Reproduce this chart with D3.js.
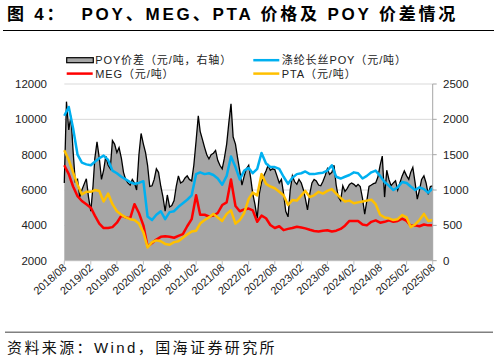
<!DOCTYPE html>
<html>
<head>
<meta charset="utf-8">
<script src="https://cdn.jsdelivr.net/npm/d3@7"></script>
<style>
  body { margin: 0; background: #fff; }
  svg { display: block; }
</style>
</head>
<body>
<svg id="chart" width="498" height="361"></svg>
<script>
// monthly series, 2018/08 .. 2025/08
const poyPrice = [
  10200, 10700, 9500, 8000, 7550, 7450, 7400, 7600, 7800, 7950, 7700, 7100,
  6950, 6750, 6600, 6450, 6350, 6400, 6500, 4500, 4300, 4600, 4800, 4350,
  4750, 4800, 5050, 5250, 5450, 5700, 6900, 7000, 6900, 6950, 6850, 6650,
  6300, 6800, 7900, 7300, 6600, 7100, 7250, 6950, 7200, 8100, 7500, 7300,
  7300, 7200, 6750, 6350, 6700, 6900, 6950, 7050, 6900, 6900, 6950, 6980,
  7100, 7400, 6750, 6650, 6750, 6850, 7000, 6950, 6650, 6800, 7000, 7100,
  6800, 6450, 6250, 6000, 6150, 6450, 6400, 6200, 6000, 6150, 6050, 5850,
  6100
];
const megPrice = [
  7400, 6900, 6200, 5650, 5380, 5200, 5000, 4550, 4100, 3850, 3850, 3900,
  4150, 4550, 4450, 4400, 5200, 4700, 4000, 2800, 3000, 3200, 3350, 3380,
  3350, 3300, 3400, 3500, 3950, 4350, 5700, 4600, 4600, 4500, 4550, 4700,
  5150, 5300, 6600, 5100, 4800, 4900, 4950, 4850, 4200, 4550, 4400, 4020,
  3850, 3950, 3730, 3800, 3850, 3920, 3880, 3830, 3750, 3680, 3650, 3700,
  3720, 3650, 3700, 3800, 3980, 4250, 4250, 4250, 4050, 4000, 4200, 4280,
  4150, 4200, 4280, 4200, 4250, 4380, 4250, 3980, 4000, 3950, 4050, 4000,
  4000
];
const ptaPrice = [
  8250, 7700, 7000, 6300, 5750, 5900, 5900, 6000, 5950, 5350, 5800, 5200,
  4800, 4600, 4450, 4350, 4300, 4100, 3600, 2750, 3050, 3150, 3100, 2950,
  2900, 3050, 3100, 3300, 3480, 3650, 3700, 4100, 4300, 4450, 4650, 4450,
  4250, 4650, 4850, 4100, 4300, 4700, 5500, 5850, 5700, 6900, 6350, 6200,
  6100, 5900, 5700, 5150, 5430, 5400, 5700, 5950, 5600, 5700, 5900, 5800,
  5950, 6050, 5800, 5550, 5350, 5400, 5250, 5300, 5350, 5400, 5450, 5200,
  4600, 4450, 4400, 4300, 4350, 4580, 4450, 3900, 4050, 4300, 4650, 4250,
  4300
];
// half-monthly POY spread (right axis)
const poySpread = [
  1100, 2250, 1850, 2050, 1550, 1120, 1150, 900, 1000, 1080, 1160, 900,
  700, 1050, 1450, 1680, 1450, 1150, 1280, 1480, 1350, 1300, 1700, 1650,
  1530, 1600, 1450, 1250, 1150, 1100, 1070, 1150, 1100, 1000, 1500, 1800,
  1650, 1530, 1350, 1050, 1060, 1150, 1300, 1250, 1050, 900, 700, 930,
  760, 780, 850, 1050, 1200, 1100, 1120, 1170, 1200, 1150, 1130, 1350,
  1700, 2050, 1830, 1720, 1600, 1500, 1440, 1500, 1520, 1560, 1420, 1350,
  1300, 1450, 1650, 1950, 2220, 1750, 1650, 1450, 1270, 1070, 1200, 1300,
  1350, 1150, 950, 800, 600, 950, 1110, 1200, 1270, 1350, 1280, 1300,
  1290, 1200, 1100, 1150, 950, 700, 620, 1000, 1200, 1120, 1080, 1150,
  1100, 1000, 880, 720, 950, 1100, 1150, 1130, 1070, 1060, 1120, 1200,
  1300, 1220, 1250, 1350, 1070, 900, 850, 1060, 980, 1020, 1080, 1100,
  1080, 1050, 1080, 1050, 880, 660, 850, 1050, 1070, 1090, 1100, 1180,
  1350, 1480, 900, 1280, 1150, 1060, 1100, 1130, 1000, 1100, 1200, 1270,
  1200, 1150, 1250, 1320, 1100, 870, 1000, 1150, 1200, 1100, 940, 1050,
  1060
];
const leftTicks = [2000, 4000, 6000, 8000, 10000, 12000];
const rightTicks = [0, 500, 1000, 1500, 2000, 2500];

const start = new Date(2018, 7, 1);
const end = new Date(2025, 7, 1);
const monthDates = poyPrice.map((d, i) => d3.timeMonth.offset(start, i));
const halfDates = poySpread.map((d, i) => d3.timeDay.offset(d3.timeMonth.offset(start, Math.floor(i / 2)), (i % 2) * 15));
const xTicks = d3.range(15).map(i => d3.timeMonth.offset(start, i * 6));

const svg = d3.select('#chart');
const plotL = 64.3, plotR = 432.7, plotT = 84, plotB = 260.7;

const x = d3.scaleTime().domain([start, end]).range([plotL, plotR]);
const yL = d3.scaleLinear().domain([2000, 12000]).range([plotB, plotT]);
const yR = d3.scaleLinear().domain([0, 2500]).range([plotB, plotT]);

svg.append('rect').attr('width', 498).attr('height', 361).attr('fill', '#fff');

// title
svg.append('text')
  .attr('x', 7).attr('y', 20)
  .attr('font-family', '"Liberation Sans", "Noto Sans CJK SC", sans-serif')
  .attr('font-weight', 'bold').attr('font-size', 17)
  .attr('letter-spacing', 2.8)
  .attr('xml:space', 'preserve')
  .text('图 4：  POY、MEG、PTA 价格及 POY 价差情况');
svg.append('line').attr('x1', 3).attr('x2', 494).attr('y1', 30.5).attr('y2', 30.5)
  .attr('stroke', '#000').attr('stroke-width', 1.2);

// gridlines
svg.append('g').selectAll('line').data(leftTicks.slice(1)).join('line')
  .attr('x1', plotL).attr('x2', plotR)
  .attr('y1', d => yL(d)).attr('y2', d => yL(d))
  .attr('stroke', '#d9d9d9').attr('stroke-width', 1);

// spread area
const area = d3.area().x((d, i) => x(halfDates[i])).y0(yR(0)).y1(d => yR(d));
svg.append('path').datum(poySpread).attr('d', area).attr('fill', '#a6a6a6');
const spreadLine = d3.line().x((d, i) => x(halfDates[i])).y(d => yR(d));
svg.append('path').datum(poySpread).attr('d', spreadLine)
  .attr('fill', 'none').attr('stroke', '#000').attr('stroke-width', 1.3);

// price lines
const line = d3.line().x((d, i) => x(monthDates[i])).y(d => yL(d));
[[megPrice, '#ff0000'], [ptaPrice, '#ffc000'], [poyPrice, '#00b0f0']].forEach(([s, c]) => {
  svg.append('path').datum(s).attr('d', line)
    .attr('fill', 'none').attr('stroke', c).attr('stroke-width', 2.5)
    .attr('stroke-linejoin', 'round');
});

// axes
const axisFont = '"Liberation Sans", Arial, sans-serif';
svg.append('line').attr('x1', plotL).attr('x2', plotR).attr('y1', plotB).attr('y2', plotB)
  .attr('stroke', '#bfbfbf');
svg.append('line').attr('x1', plotR).attr('x2', plotR).attr('y1', plotT).attr('y2', plotB)
  .attr('stroke', '#a6a6a6');

svg.append('g').selectAll('text').data(leftTicks).join('text')
  .attr('x', 47).attr('y', d => yL(d) + 4)
  .attr('text-anchor', 'end')
  .attr('font-family', axisFont).attr('font-size', 11.5).attr('fill', '#222')
  .text(d => d);

svg.append('g').selectAll('line').data(rightTicks).join('line')
  .attr('x1', plotR).attr('x2', plotR + 4)
  .attr('y1', d => yR(d)).attr('y2', d => yR(d))
  .attr('stroke', '#a6a6a6');
svg.append('g').selectAll('text').data(rightTicks).join('text')
  .attr('x', 443).attr('y', d => yR(d) + 4)
  .attr('font-family', axisFont).attr('font-size', 11.5).attr('fill', '#222')
  .text(d => d);

svg.append('g').selectAll('line').data(xTicks).join('line')
  .attr('x1', d => x(d)).attr('x2', d => x(d))
  .attr('y1', plotB).attr('y2', plotB + 4)
  .attr('stroke', '#bfbfbf');
svg.append('g').selectAll('text').data(xTicks).join('text')
  .attr('transform', d => `translate(${x(d) + 3},${plotB + 8}) rotate(-42)`)
  .attr('text-anchor', 'end')
  .attr('font-family', axisFont).attr('font-size', 11).attr('fill', '#222')
  .text(d3.timeFormat('%Y/%m'));

// legend
const legFont = '"Liberation Sans Narrow", "Liberation Sans", "Noto Sans CJK SC", sans-serif';
const legend = [
  { label: 'POY价差（元/吨，右轴）', x: 66.7, y: 60.2, kind: 'area' },
  { label: '涤纶长丝POY（元/吨）', x: 253.3, y: 60.2, color: '#00b0f0' },
  { label: 'MEG（元/吨）', x: 66.7, y: 73.6, color: '#ff0000' },
  { label: 'PTA（元/吨）', x: 253.3, y: 73.6, color: '#ffc000' }
];
legend.forEach(l => {
  if (l.kind === 'area') {
    svg.append('rect').attr('x', l.x).attr('y', l.y - 2.5).attr('width', 26.6).attr('height', 5)
      .attr('fill', '#a6a6a6').attr('stroke', '#000').attr('stroke-width', 1.2);
  } else {
    svg.append('line').attr('x1', l.x).attr('x2', l.x + 26).attr('y1', l.y).attr('y2', l.y)
      .attr('stroke', l.color).attr('stroke-width', 2.5);
  }
  svg.append('text').attr('x', l.x + 28.5).attr('y', l.y + 4)
    .attr('font-family', legFont).attr('font-size', 11).attr('letter-spacing', 0.9)
    .attr('fill', '#222')
    .text(l.label);
});

// source
svg.append('line').attr('x1', 5).attr('x2', 493).attr('y1', 332.3).attr('y2', 332.3)
  .attr('stroke', '#808080').attr('stroke-width', 1.5);
svg.append('text').attr('x', 7).attr('y', 353)
  .attr('font-family', '"Liberation Sans", "Noto Sans CJK SC", sans-serif')
  .attr('font-size', 15).attr('letter-spacing', 2.4).attr('fill', '#111')
  .text('资料来源：Wind，国海证券研究所');
</script>
</body>
</html>
